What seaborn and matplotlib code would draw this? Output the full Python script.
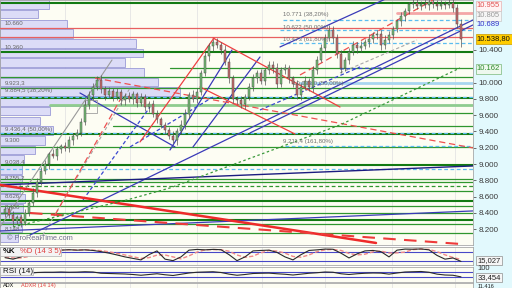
import matplotlib
matplotlib.use("Agg")
import matplotlib.pyplot as plt
import matplotlib.transforms as mtransforms
from matplotlib.patches import Rectangle
import numpy as np
import pandas as pd
import seaborn as sns

# ---------------- data ----------------
closes = [8.45, 8.38, 8.30, 8.35, 8.28, 8.40, 8.52, 8.65, 8.78, 8.92,
          9.00, 9.12, 9.10, 9.18, 9.22, 9.20, 9.30, 9.35, 9.38, 9.52,
          9.72, 9.85, 9.95, 10.03, 9.92, 9.85, 9.90, 9.82, 9.88, 9.78,
          9.84, 9.80, 9.86, 9.75, 9.82, 9.70, 9.74, 9.62, 9.55, 9.48,
          9.42, 9.35, 9.30, 9.40, 9.48, 9.62, 9.85, 9.80, 9.88, 10.12,
          10.32, 10.45, 10.50, 10.46, 10.40, 10.25, 10.05, 9.80, 9.78, 9.74,
          9.82, 9.95, 10.05, 10.12, 10.02, 10.15, 10.22, 10.18, 9.98, 10.15,
          10.18, 10.05, 9.98, 9.85, 9.95, 10.02, 9.95, 10.15, 10.28, 10.42,
          10.55, 10.65, 10.55, 10.35, 10.18, 10.28, 10.38, 10.46, 10.42, 10.45,
          10.50, 10.54, 10.58, 10.60, 10.46, 10.52, 10.58, 10.66, 10.75, 10.82,
          10.88, 10.96, 10.98, 10.94, 10.97, 10.95, 10.99, 10.96, 10.94, 10.97,
          10.95, 10.98, 10.92, 10.72, 10.5388]
first_open = 8.40
wick_up = [.04, .03, .05, .03, .04, .05, .04, .06, .05, .04,
           .05, .03, .06, .04, .03, .05, .04, .03, .05, .04,
           .06, .05, .04, .05, .06, .04, .05, .03, .05, .04,
           .03, .05, .04, .03, .05, .04, .03, .05, .04, .03,
           .04, .03, .05, .04, .06, .05, .04, .06, .05, .04,
           .05, .04, .03, .05, .04, .06, .05, .04, .03, .05,
           .04, .05, .06, .04, .05, .03, .05, .04, .06, .04,
           .05, .04, .03, .05, .04, .06, .04, .05, .04, .05,
           .04, .06, .05, .04, .05, .03, .04, .05, .04, .06,
           .04, .05, .04, .05, .04, .06, .05, .04, .03, .05,
           .04, .03, .05, .04, .03, .05, .04, .03, .05, .04,
           .03, .04, .05, .04, .06]
wick_dn = [.05, .04, .06, .04, .05, .03, .04, .03, .05, .04,
           .04, .06, .03, .05, .04, .04, .05, .06, .04, .03,
           .04, .05, .06, .04, .05, .06, .04, .05, .04, .06,
           .05, .04, .06, .05, .04, .05, .06, .04, .05, .04,
           .05, .04, .04, .06, .03, .05, .06, .04, .05, .03,
           .04, .05, .06, .04, .05, .04, .06, .05, .04, .05,
           .06, .04, .05, .06, .04, .05, .04, .06, .05, .04,
           .05, .06, .04, .05, .06, .04, .05, .06, .04, .03,
           .05, .04, .06, .05, .06, .04, .05, .04, .06, .05,
           .04, .06, .05, .04, .06, .05, .04, .05, .04, .05,
           .06, .04, .05, .04, .05, .04, .06, .04, .05, .04,
           .05, .04, .06, .05, .10]

# volume-by-price profile (price of bin, relative volume)
profile_price = [11.077, 10.958, 10.839, 10.720, 10.601, 10.482, 10.363, 10.244,
                 10.125, 10.006, 9.887, 9.768, 9.649, 9.530, 9.411, 9.292, 9.173,
                 9.054, 8.935, 8.816, 8.697, 8.578, 8.459, 8.340, 8.221, 8.102]
profile_volume = [12.5, 12.25, 9.5, 16.75, 18.25, 34, 35.75, 31.25, 36, 39.5, 45,
                  22, 12.5, 10, 13.25, 11.25, 8.75, 6, 5.5, 5.5, 5, 6.25, 5.75,
                  5, 5.5, 4.5]
profile_labels = [("10.660", 10.72), ("10.360", 10.425), ("9.923,3", 9.995),
                  ("9.884,5 (38,20%)", 9.897), ("9.436,4 (50,00%)", 9.43),
                  ("9.300", 9.284), ("9.038,4", 9.026), ("8.755,2", 8.83),
                  ("8.626", 8.60), ("8.400", 8.47), ("8.148", 8.20)]

# horizontal levels: (price, start index)
green_levels = [(10.977, -1.25), (10.375, -1.25), (10.179, 41.25), (10.07, -1.25),
                (9.934, -1.25), (9.81, -1.25), (9.627, 27.5), (9.467, 27.0),
                (9.37, -1.25), (9.21, -1.25), (8.99, -1.25), (8.817, -1.25),
                (8.78, -1.25), (8.67, -1.25), (8.547, -1.25), (8.486, -1.25),
                (8.40, -1.25), (8.314, -1.25), (8.265, -1.25), (8.155, -1.25)]
green_thick = [10.977, 10.375, 9.81, 9.37, 8.99, 8.547, 8.314]
lightgreen_levels = [(9.725, 11.25)]
green_dash_levels = [(8.731, -1.25)]
fib_blue_levels = [(10.768, 69.5), (10.645, 68.75), (10.486, 68.75), (9.823, -1.25),
                   (9.382, -1.25), (9.22, 70.0), (8.94, -1.25)]
pale_blue_levels = [(10.0, 73.75)]
red_levels = [(10.67, -1.25), (10.56, -1.25)]
pink_levels = [(10.854, 98.0)]

# trend lines: (index0, price0, index1, price1)
blue_lines = [(6.25, 8.13, 117, 10.768), (61.25, 9.382, 117, 10.707),
              (68.75, 10.437, 96.25, 11.05), (-1.25, 8.179, 117, 8.425),
              (18.75, 9.872, 42.5, 9.21), (41.25, 9.173, 56.75, 10.4),
              (47.0, 9.21, 63.75, 10.314)]
navy_lines = [(-1.25, 8.744, 117, 8.977)]
blue_dash_lines = [(19.5, 8.56, 36.25, 9.70), (31.25, 9.21, 52, 9.823),
                   (63.75, 9.664, 88.75, 10.192), (83.75, 10.167, 95, 10.18)]
red_lines = [(52, 10.547, 83.75, 9.70), (48.75, 9.946, 72.5, 9.369),
             (33.75, 9.271, 52.25, 10.547)]
red_thick_lines = [(-1.25, 8.744, 92.75, 8.032)]
red_thick_dash_lines = [(6.25, 8.40, 113.75, 8.02)]
red_dash_lines = [(22.5, 10.056, 117, 9.198), (73.75, 10.093, 107, 11.013),
                  (12.5, 8.375, 28.75, 9.787)]
gray_lines = [(-1.25, 8.228, 26.75, 10.277)]
gray_dash_lines = [(8.75, 8.069, 31.25, 9.934), (83.75, 10.118, 103, 10.523)]
green_dot_idx = [2, 30.5, 41.25, 83.75, 113.75]
green_dot_price = [8.228, 8.56, 8.707, 9.48, 10.179]

fib_texts = [("10.771 (38,20%)", 69.5, 10.83), ("10.622 (50,00%)", 69.5, 10.675),
             ("10.473 (61,80%)", 69.5, 10.523), ("10.033,0 (50,00%)", 72.0, 9.99),
             ("9.211,4 (161,80%)", 69.5, 9.271)]

axis_ticks = [10.4, 10.0, 9.8, 9.6, 9.4, 9.2, 9.0, 8.8, 8.6, 8.4, 8.2]
axis_tick_labels = ["10.400", "10.000", "9.800", "9.600", "9.400", "9.200",
                    "9.000", "8.800", "8.600", "8.400", "8.200"]
# right-side value tags: text, price, text colour, face, edge
value_tags = [("10.955", 10.94, "#e05050", "#fff4f4", "#e8b0b0"),
              ("10.805", 10.817, "#999999", "#f6f6f6", "#c8c8c8"),
              ("10.689", 10.707, "#3333cc", "none", "none"),
              ("10.538,80", 10.535, "#111111", "#ffcc00", "#c89a00"),
              ("10.162", 10.167, "#2a8a2a", "#eef8ee", "#7ab87a")]

osc_idx = list(range(0, 115, 2))
stoch_k = [40, 30, 45, 70, 85, 90, 92, 90, 93, 90, 92, 88, 80, 70, 58, 45, 35, 25,
           60, 85, 30, 20, 45, 90, 95, 92, 95, 93, 60, 20, 45, 85, 88, 90, 75, 45,
           25, 60, 88, 92, 97, 96, 70, 38, 65, 85, 88, 80, 45, 90, 97, 96, 98, 92,
           55, 30, 38, 15]
stoch_d = [45, 38, 38, 48, 67, 82, 89, 91, 92, 91, 92, 90, 87, 79, 69, 58, 46, 35,
           40, 57, 58, 45, 32, 52, 77, 92, 94, 93, 83, 58, 42, 50, 73, 88, 84, 70,
           48, 43, 58, 80, 92, 95, 88, 68, 58, 63, 79, 84, 71, 72, 77, 94, 97, 95,
           80, 59, 41, 28]
rsi = [50, 48, 55, 62, 68, 70, 70, 72, 70, 71, 74, 72, 62, 60, 58, 56, 52, 46,
       52, 58, 50, 44, 54, 64, 70, 72, 74, 68, 55, 46, 52, 60, 62, 63, 58, 54,
       48, 55, 62, 66, 72, 70, 58, 52, 58, 62, 64, 63, 55, 64, 72, 74, 76, 70,
       55, 48, 46, 33]
stoch_last = "15,027"
rsi_last = "33,454"

# ---------------- figure ----------------
sns.set_theme(style="white")
plt.rcParams["font.family"] = ["Liberation Sans", "DejaVu Sans"]

W, H = 512, 288
fig = plt.figure(figsize=(W / 100, H / 100), dpi=100)
fig.patch.set_facecolor("white")
fig.add_artist(Rectangle((473 / W, 0), 1 - 473 / W, 1, transform=fig.transFigure,
                         fc="#e2f9fd", ec="none", zorder=0))

axw = 473 / W
ax = fig.add_axes([0, 1 - 245 / H, axw, 245 / H])
ax_st = fig.add_axes([0, 1 - 265 / H, axw, 18 / H])
ax_rsi = fig.add_axes([0, 1 - 282 / H, axw, 15 / H])
ax_adx = fig.add_axes([0, 1 - 299 / H, axw, 16 / H])

XMIN, XMAX = -1.25, 117
for a in (ax, ax_st, ax_rsi, ax_adx):
    a.set_facecolor("#fdfdf3")
    a.set_xlim(XMIN, XMAX)
    a.set_xticks([])
    for s in a.spines.values():
        s.set_color("#a8a8a8")
        s.set_linewidth(0.6)
    for gx in [15, 31.25, 48, 64.25, 80, 96.75, 112.5]:
        a.axvline(gx, color="#e4e4e4", lw=0.6, zorder=0.5)

ax.set_ylim(8.007, 11.013)

# volume profile
ax.barh(profile_price, profile_volume, height=0.105, left=XMIN,
        color="#dcdcf7", edgecolor="#9a9ad6", linewidth=0.6, zorder=1)
for txt, p in profile_labels:
    ax.text(0.0, p, txt, fontsize=4.4, color="#666666", va="center", ha="left", zorder=6)

# horizontal levels
def hseg(levels, **kw):
    for p, x0 in levels:
        ax.plot([x0, XMAX], [p, p], **kw)

for p, x0 in green_levels:
    lw = 1.5 if p in green_thick else 0.9
    c = "#137a13" if p in green_thick else "#2f962f"
    ax.plot([x0, XMAX], [p, p], color=c, lw=lw, zorder=2.5)
hseg(lightgreen_levels, color="#8fcc8f", lw=2.0, zorder=2.4)
hseg(green_dash_levels, color="#2f962f", lw=0.9, ls=(0, (3, 2)), zorder=2.5)
hseg(fib_blue_levels, color="#5bbdf0", lw=0.9, ls=(0, (3, 2)), zorder=2.6)
hseg(pale_blue_levels, color="#a8d6f0", lw=2.0, zorder=2.3)
hseg(red_levels, color="#e86060", lw=0.9, zorder=2.6)
hseg(pink_levels, color="#f4a6a6", lw=2.0, zorder=2.3)

def segs(lines, **kw):
    for x0, p0, x1, p1 in lines:
        ax.plot([x0, x1], [p0, p1], **kw)

segs(gray_lines, color="#9a9a9a", lw=0.8, zorder=2.7)
segs(gray_dash_lines, color="#a8a8a8", lw=0.8, ls=(0, (3, 2)), zorder=2.7)
segs(blue_lines, color="#3a3ab8", lw=0.9, zorder=2.8)
segs(navy_lines, color="#1c1c80", lw=1.0, zorder=2.8)
segs(blue_dash_lines, color="#3a48d0", lw=0.9, ls=(0, (3, 2)), zorder=2.8)
segs(red_lines, color="#ee4040", lw=0.9, zorder=2.8)
segs(red_thick_lines, color="#ee2a2a", lw=1.8, zorder=2.8)
segs(red_thick_dash_lines, color="#ee3a3a", lw=1.5, ls=(0, (6, 4)), zorder=2.8)
segs(red_dash_lines, color="#ee5050", lw=0.9, ls=(0, (5, 3)), zorder=2.8)
ax.plot(green_dot_idx, green_dot_price, color="#3c9a3c", lw=0.9, ls=(0, (2, 2)), zorder=2.8)
ax.add_patch(Rectangle((20, 9.627), 3, 0.16, fc="none", ec="#a0a0a0", lw=0.6, zorder=2.9))

# candles
df = pd.DataFrame({"close": closes})
df["open"] = [first_open] + closes[:-1]
df["i"] = np.arange(len(df))
df["top"] = df[["open", "close"]].max(axis=1)
df["bot"] = df[["open", "close"]].min(axis=1)
df["high"] = df["top"] + np.array(wick_up)
df["low"] = df["bot"] - np.array(wick_dn)
up = df["close"] >= df["open"]
ax.vlines(df["i"], df["low"], df["high"], color="#555555", lw=0.5, zorder=4)
ax.bar(df["i"], (df["top"] - df["bot"]).clip(lower=0.012), bottom=df["bot"], width=0.62,
       color=np.where(up, "#74bd74", "#c86a6a"), edgecolor="#4a4a4a", linewidth=0.35,
       zorder=4.5)

for txt, x, p in fib_texts:
    ax.text(x, p, txt, fontsize=4.4, color="#707070", va="center", ha="left", zorder=6)
ax.text(0.5, 8.09, "\u00a9 ProRealTime.com", fontsize=5.3, color="#6f6f8f",
        va="center", ha="left", zorder=6)

# right price axis
ax.yaxis.tick_right()
ax.set_yticks(axis_ticks)
ax.set_yticklabels(axis_tick_labels)
ax.tick_params(axis="y", length=2, width=0.6, color="#555555", labelsize=5.8,
               labelcolor="#3a3a3a", pad=2)
trans = mtransforms.blended_transform_factory(ax.transAxes, ax.transData)
for txt, p, tc, fc, ec in value_tags:
    bb = None if fc == "none" else dict(boxstyle="square,pad=0.15", fc=fc, ec=ec, lw=0.5)
    ax.text(1.008, p, txt, transform=trans, fontsize=5.5, color=tc, va="center",
            ha="left", bbox=bb, clip_on=False, zorder=7)

# stochastic panel
st_df = pd.DataFrame({"i": osc_idx, "k": stoch_k, "d": stoch_d})
ax_st.set_ylim(-9, 111)
ax_st.axhline(80, color="#4848c8", lw=0.8)
ax_st.axhline(20, color="#4848c8", lw=0.8)
sns.lineplot(data=st_df, x="i", y="d", ax=ax_st, color="#f08888", lw=1.0,
             linestyle=(0, (3, 1.5)))
sns.lineplot(data=st_df, x="i", y="k", ax=ax_st, color="#2a2a2a", lw=0.8)
ax_st.set_xlabel("")
ax_st.set_ylabel("")
ax_st.set_yticks([])
ax_st.add_patch(Rectangle((0.0, 0.5), 0.128, 0.48, transform=ax_st.transAxes,
                          fc="#f4f4f4", ec="#b0b0b0", lw=0.5, zorder=5))
ax_st.text(0.006, 0.74, "%K", transform=ax_st.transAxes, fontsize=5.6, color="#111111",
           va="center", ha="left", zorder=6, fontweight="bold")
ax_st.text(0.042, 0.74, "%D (14 3 5)", transform=ax_st.transAxes, fontsize=5.6,
           color="#e04040", va="center", ha="left", zorder=6)
tst = mtransforms.blended_transform_factory(ax_st.transAxes, ax_st.transData)
ax_st.text(1.009, 22, stoch_last, transform=tst, fontsize=5.5, color="#222222",
           va="center", ha="left", clip_on=False,
           bbox=dict(boxstyle="square,pad=0.15", fc="#f6f6f6", ec="#909090", lw=0.5))

# RSI panel
rsi_df = pd.DataFrame({"i": osc_idx, "rsi": rsi})
ax_rsi.set_ylim(-8, 112)
ax_rsi.axhline(70, color="#4848c8", lw=0.8)
ax_rsi.axhline(30, color="#4848c8", lw=0.8)
sns.lineplot(data=rsi_df, x="i", y="rsi", ax=ax_rsi, color="#2a2a2a", lw=0.8)
ax_rsi.set_xlabel("")
ax_rsi.set_ylabel("")
ax_rsi.set_yticks([])
ax_rsi.add_patch(Rectangle((0.0, 0.45), 0.07, 0.55, transform=ax_rsi.transAxes,
                           fc="#f4f4f4", ec="#b0b0b0", lw=0.5, zorder=5))
ax_rsi.text(0.006, 0.72, "RSI (14)", transform=ax_rsi.transAxes, fontsize=5.8,
            color="#111111", va="center", ha="left", zorder=6)
trs = mtransforms.blended_transform_factory(ax_rsi.transAxes, ax_rsi.transData)
ax_rsi.text(1.009, 100, "100", transform=trs, fontsize=5.5, color="#333333",
            va="center", ha="left", clip_on=False)
ax_rsi.text(1.009, 26, rsi_last, transform=trs, fontsize=5.5, color="#222222",
            va="center", ha="left", clip_on=False,
            bbox=dict(boxstyle="square,pad=0.15", fc="#f6f6f6", ec="#909090", lw=0.5))

# ADX panel (only its top strip is visible)
ax_adx.set_ylim(0, 100)
ax_adx.set_yticks([])
ax_adx.text(0.006, 0.97, "ADX", transform=ax_adx.transAxes, fontsize=4.0,
            color="#111111", va="top", ha="left")
ax_adx.text(0.045, 0.97, "ADXR (14 14)", transform=ax_adx.transAxes, fontsize=4.0,
            color="#e04040", va="top", ha="left")
ax_adx.text(1.009, 0.97, "11,416", transform=ax_adx.transAxes, fontsize=4.0,
            color="#222222", va="top", ha="left", clip_on=False)

fig.savefig("out.png", dpi=100, facecolor=fig.get_facecolor())
